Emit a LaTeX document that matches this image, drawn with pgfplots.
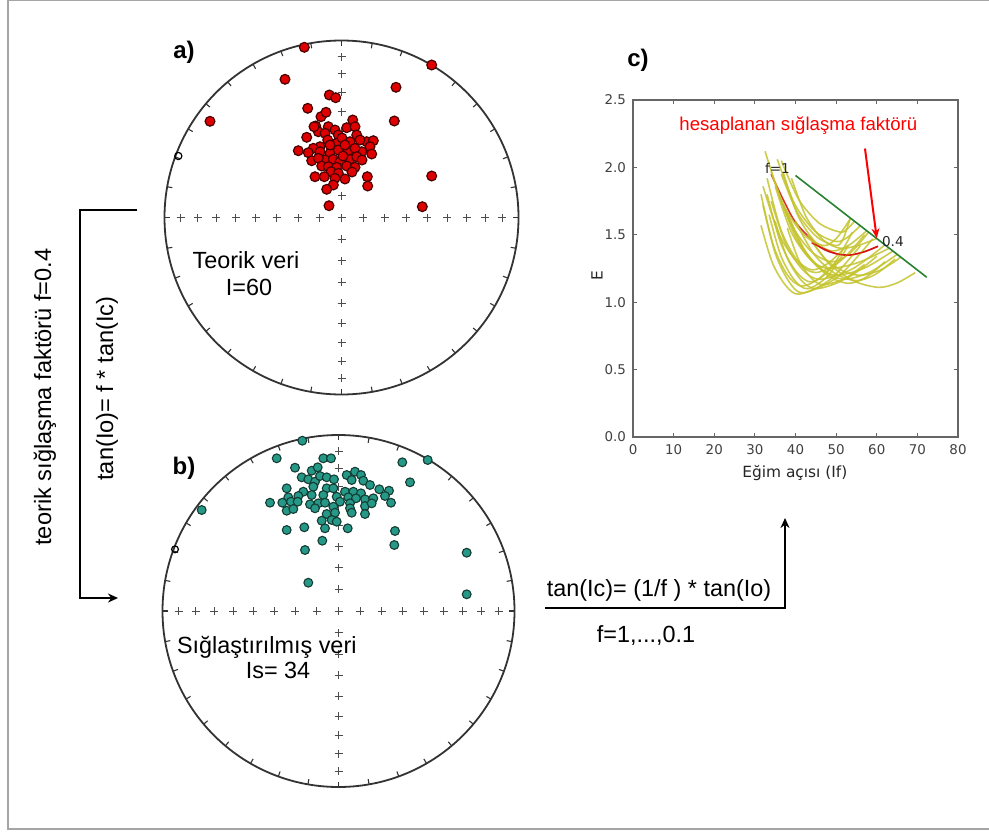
\documentclass[border=0pt]{standalone}
\usepackage{fontspec}
\setmainfont{Liberation Sans}
\newfontfamily\dejavu{DejaVu Sans}
\usepackage{pgfplots}
\pgfplotsset{compat=1.18}
\usetikzlibrary{arrows.meta}

\definecolor{dotred}{RGB}{222,0,0}
\definecolor{dotredE}{RGB}{70,0,0}
\definecolor{tealdot}{RGB}{38,152,135}
\definecolor{tealE}{RGB}{20,60,50}
\definecolor{ycurve}{RGB}{196,196,45}
\definecolor{gline}{RGB}{40,130,50}
\definecolor{framegray}{RGB}{165,165,165}

\newcommand{\stereo}[3]{%
  \begin{scope}[shift={(#1pt,#2pt)}]
    \draw[black!80, line width=0.9pt] (0,0) circle[radius=#3pt];
    \pgfmathsetmacro\rin{#3-2.6}
    \foreach \a in {0,10,...,350}{
      \draw[black!80, line width=0.55pt] (\a:#3pt) -- (\a:\rin pt);
    }
    \draw[black!70, line width=0.5pt] (-2pt,0) -- (2pt,0) (0,-2pt) -- (0,2pt);
    \foreach \k in {1,...,8}{
      \pgfmathsetmacro\d{#3*1.41421*sin(5*\k)}
      \foreach \sx/\sy in {1/0,-1/0,0/1,0/-1}{
        \draw[black!70, line width=0.5pt]
          ({\sx*\d pt-2pt},{\sy*\d pt}) -- ({\sx*\d pt+2pt},{\sy*\d pt})
          ({\sx*\d pt},{\sy*\d pt-2pt}) -- ({\sx*\d pt},{\sy*\d pt+2pt});
      }
    }
  \end{scope}
}

\begin{document}
\begin{tikzpicture}
\useasboundingbox (0,0) rectangle (494.5pt,416pt);
\fill[white] (0,0) rectangle (494.5pt,416pt);
\draw[framegray, line width=0.6pt] (494.5pt,415.6pt) -- (4pt,415.6pt) -- (4pt,1.5pt) -- (494.5pt,1.5pt);

% ---------- stereonet a ----------
\stereo{170.75}{307.25}{88.5}
\begin{axis}[at={(82.25pt,218.75pt)}, anchor=south west, scale only axis,
  width=177pt, height=177pt, hide axis, clip=false,
  xmin=164.5, xmax=518.5, ymin=40.5, ymax=394.5, y dir=reverse]
\addplot[only marks, mark=o, mark size=1.8pt, draw=black, line width=0.6pt] coordinates {(178.3,156)};
\addplot[only marks, mark=*, mark size=2.45pt, mark options={fill=dotred, draw=dotredE, line width=0.6pt}] coordinates {
(304.3,47.3)(431.7,65)(285,79.3)(396,87.3)(210,121.3)(394.3,121)(431.7,176)(422.3,206.7)(329,205.7)
(329.3,95)(335.7,97.7)(307.7,108.3)(321,116.7)(326,112.3)(352.7,120)(315.7,126)(328.3,126.7)
(335,130)(346.7,127.7)(355,126.7)(318.3,131.7)(325,133.3)(338.3,135)(356.7,135)(306.7,137.3)
(366.7,141.7)(373.3,140.7)(327.7,140)(350,141.7)(360,140)(336.7,143.3)(320,146.7)(313.3,148.3)
(370,146.7)(298.3,150.7)(308.3,152.7)(320,151.7)(330,153.3)(338.3,150)(348.3,150.7)(361.7,151.7)
(371.7,154)(355,148.3)(311.7,160.7)(325,160)(333.3,159.3)(340,161.7)(350,159.3)(356.7,156.7)
(318.3,158.3)(321.7,166)(328.3,166.7)(336.7,167.3)(346.7,166)(355,167.3)(331,171.7)(338.3,173.3)
(315,176.7)(324.3,176.7)(335,178.3)(345,179)(367.3,176.7)(333.3,185)(326.7,189.3)(367.7,186)
(314,126.7)(342,138)(345,145)(330,145)(362,160)(343,156)(352,172)
};
\end{axis}

% ---------- stereonet b ----------
\stereo{169.25}{110.5}{88}
\begin{axis}[at={(81.25pt,22.5pt)}, anchor=south west, scale only axis,
  width=176pt, height=176pt, hide axis, clip=false,
  xmin=162.5, xmax=514.5, ymin=435, ymax=787, y dir=reverse]
\addplot[only marks, mark=o, mark size=1.7pt, draw=black, line width=0.6pt] coordinates {(175,549.3)};
\addplot[only marks, mark=*, mark size=2.2pt, mark options={fill=tealdot, draw=tealE, line width=0.55pt}] coordinates {
(302.3,440.7)(427.7,460)(276.7,458.3)(402.3,462.3)(410,482.3)(201.7,510)(395,531)(394.3,545)
(466.7,552.7)(466.7,594.3)(308.3,582.7)(305,550)(322.3,540.7)(286.7,530)(304.3,527.3)(325,528.3)
(347.7,528.3)(323.3,458.3)(331,458.3)(295,467.7)
(311.7,470.7)(317.7,467.3)(301.7,477.3)(308.3,479.3)(315,481.7)(320,476)(326.7,477.3)(334,479.3)
(346.7,475)(355,471.7)(361,475)(363.3,480.7)(370,485)(351.7,480)(286.7,488.3)(303.3,491.7)
(313.3,486.7)(326.7,488.3)(333.3,488.3)(345,491.7)(353.3,491.7)(361,493.3)(379.3,489.3)(389,490.7)
(288.3,497.3)(298.3,496)(311.7,495)(323.3,495)(336.7,496.7)(348.3,497.3)(356,498.3)(365,499.3)
(373.3,498.3)(385,496)(270,502.7)(282.3,502.7)(291,501.7)(297.7,501.7)(310,504.3)(318.3,503.3)
(325,502.7)(340,501.7)(350,503.3)(391,502.7)(286.7,510.7)(293.3,509)(315,508.3)(333.3,506.7)
(350,508.3)(365,506)(371.7,503.3)(326.7,514)(335,512.7)(351.7,512.7)(365,514)(321.7,520.7)
(331.7,520)(336.7,521.7)
};
\end{axis}

% ---------- panel c ----------
\begin{axis}[at={(316.5pt,197.5pt)}, anchor=south west, scale only axis,
  width=162.5pt, height=168.5pt, clip=false,
  xmin=0, xmax=80, ymin=0, ymax=2.5,
  xtick={0,10,20,30,40,50,60,70,80}, ytick={0,0.5,1,1.5,2,2.5},
  tick align=inside, major tick length=2.2pt,
  axis line style={black!60, line width=0.6pt},
  tick style={black!60, line width=0.5pt},
  tick label style={font=\dejavu\fontsize{6.7}{8}\selectfont, text=black!75},
  /pgf/number format/assume math mode=true,
  yticklabel style={/pgf/number format/.cd, fixed, fixed zerofill, precision=1},
  xlabel={Eğim açısı (If)}, ylabel={E},
  label style={font=\dejavu\fontsize{7.7}{9}\selectfont, text=black!85},
  xlabel style={at={(axis description cs:0.498,-0.107)}, anchor=center},
  ylabel style={at={(axis description cs:-0.111,0.48)}, anchor=center},
  yc/.style={color=ycurve, line width=0.8pt, smooth, mark=none, opacity=0.85}]
\addplot[red!80!black, line width=0.8pt, smooth, opacity=0.8] coordinates {(34,1.95)(37,1.76)(40.2,1.585)(46,1.41)(50,1.36)(53.4,1.35)(57,1.375)(60.3,1.415)};
\addplot[yc] coordinates {(32.5,2.12)(36.85,1.735)(41.93,1.504)(47,1.42)(50.25,1.48)(53.5,1.62)};
\addplot[yc] coordinates {(35.5,2.06)(39.85,1.725)(44.93,1.523)(50,1.45)(53,1.486)(56,1.57)};
\addplot[yc] coordinates {(36.5,2.05)(40.85,1.759)(45.93,1.584)(51,1.52)(52.75,1.544)(54.5,1.60)};
\addplot[yc] coordinates {(34,1.97)(38.5,1.602)(43.75,1.38)(49,1.30)(53.5,1.366)(58,1.52)};
\addplot[yc] coordinates {(32,1.86)(35.9,1.508)(40.45,1.297)(45,1.22)(51,1.304)(57,1.50)};
\addplot[yc] coordinates {(33,1.80)(36.3,1.443)(40.15,1.228)(44,1.15)(49,1.261)(54,1.52)};
\addplot[yc] coordinates {(31.5,1.57)(34.35,1.289)(37.68,1.121)(41,1.06)(48.5,1.168)(56,1.42)};
\addplot[yc] coordinates {(32,1.72)(35,1.363)(38.5,1.148)(42,1.07)(50.5,1.19)(59,1.47)};
\addplot[yc] coordinates {(33.5,1.65)(36.35,1.348)(39.68,1.166)(43,1.10)(48,1.196)(53,1.42)};
\addplot[yc] coordinates {(34,1.75)(37.6,1.431)(41.8,1.24)(46,1.17)(54,1.247)(62,1.425)};
\addplot[yc] coordinates {(35,1.86)(38.9,1.525)(43.45,1.323)(48,1.25)(55.5,1.295)(63,1.40)};
\addplot[yc] coordinates {(36,1.80)(40.2,1.47)(45.1,1.272)(50,1.20)(57,1.254)(64,1.38)};
\addplot[yc] coordinates {(37,1.72)(41.5,1.418)(46.75,1.236)(52,1.17)(58.5,1.226)(65,1.355)};
\addplot[yc] coordinates {(38,1.66)(42.5,1.374)(47.75,1.202)(53,1.14)(57.5,1.188)(62,1.30)};
\addplot[yc] coordinates {(40,1.60)(44.5,1.358)(49.75,1.213)(55,1.16)(59.75,1.208)(64.5,1.32)};
\addplot[yc] coordinates {(43,1.50)(48.25,1.286)(54.4,1.157)(60.5,1.11)(65,1.143)(69.5,1.22)};
\addplot[yc] coordinates {(39,1.92)(42.6,1.634)(46.8,1.462)(51,1.40)(55.5,1.422)(60,1.473)};
\addplot[yc] coordinates {(37,1.96)(40.6,1.641)(44.8,1.45)(49,1.38)(53.25,1.425)(57.5,1.53)};
\addplot[yc] coordinates {(33,1.92)(36.3,1.546)(40.15,1.322)(44,1.24)(48,1.288)(52,1.40)};
\addplot[yc] coordinates {(35,1.60)(38,1.325)(41.5,1.16)(45,1.10)(51,1.154)(57,1.28)};
\addplot[yc] coordinates {(44,1.45)(47.6,1.313)(51.8,1.23)(56,1.20)(61,1.24)(66,1.335)};
\addplot[yc] coordinates {(36.5,1.95)(40.55,1.659)(45.28,1.484)(50,1.42)(51.75,1.472)(53.5,1.625)};
\addplot[yc] coordinates {(31.5,1.80)(34.5,1.426)(38,1.202)(41.5,1.12)(45.75,1.174)(50,1.30)};
\addplot[yc] coordinates {(38,1.55)(40.7,1.319)(43.85,1.18)(47,1.13)(53.5,1.193)(60,1.34)};
\addplot[red!85!black, line width=0.7pt, smooth, opacity=0.75] coordinates {(44,1.44)(46,1.41)(50,1.36)(53.4,1.35)(57,1.375)(60.3,1.415)};
\addplot[gline, line width=0.8pt] coordinates {(40,1.94)(72.3,1.185)};
\node[font=\fontsize{9.3}{11}\selectfont, text=red] at (axis cs:40.7,2.31) {hesaplanan sığlaşma faktörü};
\node[anchor=west, inner sep=0pt, font=\dejavu\fontsize{6.8}{8}\selectfont, text=black!85] at (axis cs:32.4,1.99) {f=1};
\node[anchor=west, inner sep=0pt, font=\dejavu\fontsize{6.8}{8}\selectfont, text=black!85] at (axis cs:61.2,1.449) {0.4};
\draw[red, line width=1pt, -{Stealth[length=5pt,width=4pt]}] (axis cs:57.1,2.14) -- (axis cs:60.0,1.474);
\end{axis}

% ---------- labels ----------
\node[font=\bfseries\fontsize{12}{14}\selectfont] at (92pt,390pt) {a)};
\node[font=\bfseries\fontsize{12}{14}\selectfont] at (92pt,182pt) {b)};
\node[font=\bfseries\fontsize{12}{14}\selectfont] at (319pt,386pt) {c)};

\node[anchor=base, font=\fontsize{11.7}{14}\selectfont] at (123pt,281.9pt) {Teorik veri};
\node[anchor=base, font=\fontsize{11.7}{14}\selectfont] at (124.5pt,268.5pt) {I=60};
\node[anchor=base, font=\fontsize{11.7}{14}\selectfont] at (133.4pt,89.4pt) {Sığlaştırılmış veri};
\node[anchor=base, font=\fontsize{11.7}{14}\selectfont] at (139pt,76.9pt) {Is= 34};

\node[rotate=90, font=\fontsize{11.8}{14}\selectfont] at (22.5pt,217.5pt) {teorik sığlaşma faktörü f=0.4};
\node[rotate=90, font=\fontsize{11.8}{14}\selectfont] at (53.5pt,221.75pt) {tan(Io)= f * tan(Ic)};

\draw[line width=1pt, -{Stealth[length=5pt,width=4.5pt]}] (68.5pt,311pt) -- (40pt,311pt) -- (40pt,117pt) -- (59pt,117pt);
\draw[line width=1pt, -{Stealth[length=5pt,width=4.5pt]}] (272.5pt,112pt) -- (392.5pt,112pt) -- (392.5pt,157pt);

\node[anchor=base, font=\fontsize{11.7}{14}\selectfont] at (329.5pt,117.7pt) {tan(Ic)= (1/f ) * tan(Io)};
\node[anchor=base, font=\fontsize{11.7}{14}\selectfont] at (323pt,94.7pt) {f=1,...,0.1};
\end{tikzpicture}
\end{document}
